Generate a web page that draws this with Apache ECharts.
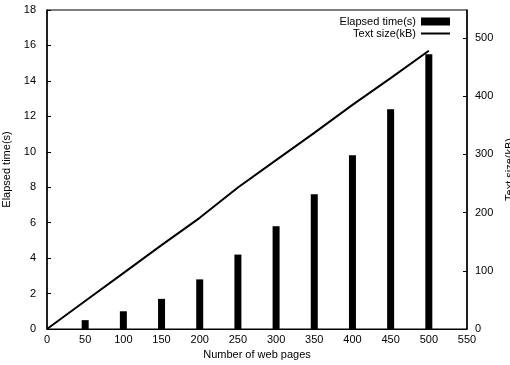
<!DOCTYPE html>
<html><head><meta charset="utf-8">
<script src="https://cdn.jsdelivr.net/npm/echarts@6/dist/echarts.min.js"></script>
<style>html,body{margin:0;padding:0;background:#fff}#c{width:510px;height:365px}</style>
</head><body><div id="c"></div>
<script>
const pages = [50, 100, 150, 200, 250, 300, 350, 400, 450, 500];
const elapsed = [0.5, 1.0, 1.7, 2.8, 4.2, 5.8, 7.6, 9.8, 12.4, 15.5];
const linePages = [0, 50, 100, 150, 200, 250, 300, 350, 400, 450, 500];
const textSize = [0, 48, 96, 144, 191, 243, 290, 337, 385, 431, 478];

const font = 'Liberation Sans, Arial, Helvetica, sans-serif';
const chart = echarts.init(document.getElementById('c'), null, {renderer: 'canvas'});
chart.setOption({
  animation: false,
  textStyle: {fontFamily: font, color: '#000'},
  grid: {left: 47, right: 43, top: 10, bottom: 36, containLabel: false, outerBoundsMode: 'none',
         show: true, borderColor: '#000', borderWidth: 1, backgroundColor: 'transparent'},
  legend: {
    right: 55, top: 11, orient: 'vertical', align: 'right',
    itemWidth: 29, itemHeight: 8, itemGap: 1, itemTextGap: 4,
    textStyle: {fontFamily: font, fontSize: 11, color: '#000', lineHeight: 11},
    data: [{name: 'Elapsed time(s)', icon: 'rect'},
           {name: 'Text size(kB)', icon: 'path://M0,0H29V2H0Z'}]
  },
  xAxis: {
    type: 'value', min: 0, max: 550, interval: 50,
    name: 'Number of web pages', nameLocation: 'middle', nameGap: 20,
    nameTextStyle: {fontFamily: font, fontSize: 11, color: '#000'},
    axisLine: {show: true, lineStyle: {color: '#000', width: 1}},
    axisTick: {show: false},
    splitLine: {show: false},
    axisLabel: {fontFamily: font, fontSize: 11, color: '#000', margin: 5}
  },
  yAxis: [{
    type: 'value', min: 0, max: 18, interval: 2, position: 'left',
    name: 'Elapsed time(s)', nameLocation: 'middle', nameGap: 27, nameRotate: 90,
    nameTextStyle: {fontFamily: font, fontSize: 11, color: '#000'},
    axisLine: {show: true, lineStyle: {color: '#000', width: 1.5}},
    axisTick: {show: true, inside: true, length: 4, lineStyle: {color: '#000'}},
    splitLine: {show: false},
    axisLabel: {fontFamily: font, fontSize: 11, color: '#000', margin: 11}
  }, {
    type: 'value', min: 0, max: 548, interval: 100, position: 'right',
    name: 'Text size(kB)', nameLocation: 'middle', nameGap: 34, nameRotate: 90,
    nameTextStyle: {fontFamily: font, fontSize: 11, color: '#000'},
    axisLine: {show: true, lineStyle: {color: '#000', width: 1.5}},
    axisTick: {show: true, inside: true, length: 4, lineStyle: {color: '#000'}},
    splitLine: {show: false},
    axisLabel: {fontFamily: font, fontSize: 11, color: '#000', margin: 8, showMaxLabel: false}
  }],
  series: [{
    name: 'Elapsed time(s)', type: 'bar', yAxisIndex: 0, barWidth: 7,
    itemStyle: {color: '#000'},
    data: pages.map((p, i) => [p, elapsed[i]])
  }, {
    name: 'Text size(kB)', type: 'line', yAxisIndex: 1, symbol: 'none',
    lineStyle: {color: '#000', width: 2}, itemStyle: {color: '#000'},
    data: linePages.map((p, i) => [p, textSize[i]])
  }]
});
</script></body></html>
